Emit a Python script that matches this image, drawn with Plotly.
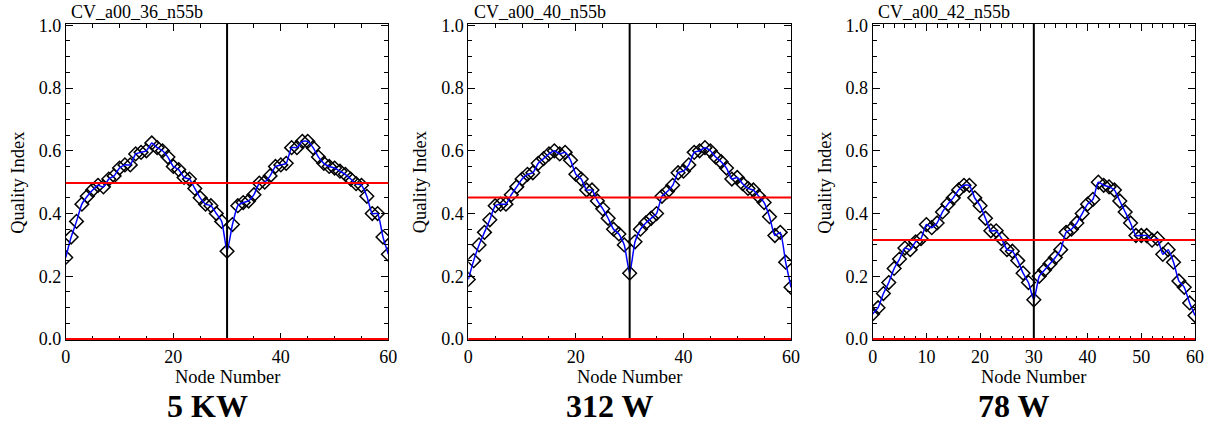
import plotly.graph_objects as go

nodes = list(range(61))

q_36 = [0.26, 0.325, 0.375, 0.43, 0.455, 0.475, 0.49, 0.485, 0.51, 0.52,
        0.545, 0.555, 0.555, 0.59, 0.595, 0.60, 0.625, 0.61, 0.60, 0.58,
        0.55, 0.54, 0.515, 0.51, 0.48, 0.45, 0.43, 0.425, 0.40, 0.375,
        0.28,
        0.365, 0.425, 0.435, 0.44, 0.46, 0.497, 0.50, 0.52, 0.55, 0.555,
        0.56, 0.61, 0.61, 0.63, 0.63, 0.61, 0.58, 0.56, 0.55, 0.545,
        0.535, 0.525, 0.51, 0.495, 0.49, 0.455, 0.40, 0.40, 0.325, 0.27]

q_40 = [0.19, 0.25, 0.30, 0.34, 0.38, 0.425, 0.43, 0.43, 0.46, 0.485,
        0.51, 0.525, 0.53, 0.56, 0.575, 0.59, 0.60, 0.59, 0.595, 0.57,
        0.525, 0.51, 0.475, 0.475, 0.44, 0.415, 0.385, 0.35, 0.335, 0.30,
        0.21,
        0.31, 0.35, 0.37, 0.385, 0.40, 0.455, 0.47, 0.49, 0.53, 0.535,
        0.555, 0.595, 0.60, 0.61, 0.60, 0.58, 0.565, 0.545, 0.51, 0.515,
        0.495, 0.48, 0.475, 0.455, 0.435, 0.39, 0.33, 0.34, 0.245, 0.165]

q_42 = [0.08, 0.10, 0.145, 0.18, 0.225, 0.255, 0.29, 0.285, 0.31, 0.32,
        0.365, 0.355, 0.37, 0.405, 0.43, 0.45, 0.475, 0.49, 0.49, 0.45,
        0.425, 0.385, 0.345, 0.345, 0.32, 0.285, 0.28, 0.25, 0.21, 0.18,
        0.125,
        0.20, 0.22, 0.24, 0.26, 0.285, 0.34, 0.35, 0.37, 0.40, 0.43,
        0.445, 0.50, 0.49, 0.485, 0.475, 0.44, 0.405, 0.37, 0.33, 0.33,
        0.33, 0.315, 0.32, 0.27, 0.285, 0.245, 0.185, 0.165, 0.115, 0.075]

panel_titles = ["CV_a00_36_n55b", "CV_a00_40_n55b", "CV_a00_42_n55b"]
panel_labels = ["5 KW", "312 W", "78 W"]
mean_levels = [0.497, 0.451, 0.316]
divider_node = 30
series = [q_36, q_40, q_42]
x_dticks = [20, 20, 10]
x_minor = [5, 5, 2]

FONT = "Liberation Serif"
x_domains = [[0.0543, 0.3207], [0.3867, 0.6532], [0.7206, 0.9868]]
y_domain = [0.2, 0.9435]

fig = go.Figure()
for i, vals in enumerate(series):
    xa = "x" if i == 0 else f"x{i+1}"
    ya = "y" if i == 0 else f"y{i+1}"
    fig.add_trace(go.Scatter(
        x=nodes, y=vals, mode="markers", xaxis=xa, yaxis=ya,
        marker=dict(symbol="diamond-open", size=10.5, color="black",
                    line=dict(color="black", width=1.5)),
        showlegend=False, hoverinfo="skip"))
    fig.add_trace(go.Scatter(
        x=nodes, y=vals, mode="lines", xaxis=xa, yaxis=ya,
        line=dict(color="#0000ff", width=1.5, shape="spline", smoothing=0.5),
        showlegend=False, hoverinfo="skip"))

    axis_common = dict(showline=True, linecolor="black", linewidth=1,
                       mirror="ticks", ticks="inside", tickcolor="black",
                       showgrid=False, zeroline=False, automargin=False,
                       tickfont=dict(family=FONT, size=18, color="black"))
    xkey = "xaxis" if i == 0 else f"xaxis{i+1}"
    ykey = "yaxis" if i == 0 else f"yaxis{i+1}"
    fig.update_layout(**{
        xkey: dict(domain=x_domains[i], anchor=ya, range=[0, 60],
                   dtick=x_dticks[i], tick0=0, ticklen=7, tickwidth=1,
                   minor=dict(dtick=x_minor[i], ticklen=4, ticks="inside",
                              tickcolor="black", tickwidth=1),
                   **axis_common),
        ykey: dict(domain=y_domain, anchor=xa, range=[-0.003, 1.004],
                   dtick=0.2, tick0=0, ticklen=7, tickwidth=1,
                   tickformat=".1f",
                   minor=dict(dtick=0.05, ticklen=4, ticks="inside",
                              tickcolor="black", tickwidth=1),
                   **axis_common),
    })

    xd = f"{xa} domain"
    yd = f"{ya} domain"
    # vertical divider
    fig.add_shape(type="line", xref=xa, yref=yd, x0=divider_node, x1=divider_node,
                  y0=0, y1=1, line=dict(color="black", width=2), layer="above")
    # mean line
    fig.add_shape(type="line", xref=xd, yref=ya, x0=0, x1=1,
                  y0=mean_levels[i], y1=mean_levels[i],
                  line=dict(color="#ff0000", width=2), layer="above")
    # zero line
    fig.add_shape(type="line", xref=xd, yref=ya, x0=0, x1=1, y0=0, y1=0,
                  line=dict(color="#ff0000", width=2), layer="above")

    cx = (x_domains[i][0] + x_domains[i][1]) / 2
    # panel title
    fig.add_annotation(text=panel_titles[i], xref=xd, yref=yd, x=0.01, y=1.0,
                       xanchor="left", yanchor="bottom", showarrow=False,
                       font=dict(family=FONT, size=18, color="black"))
    # x axis title
    fig.add_annotation(text="Node Number", xref="paper", yref="paper",
                       x=cx, y=1 - 377 / 425, xanchor="center", yanchor="middle",
                       showarrow=False, font=dict(family=FONT, size=18.5, color="black"))
    # y axis title
    fig.add_annotation(text="Quality Index", xref="paper", yref="paper",
                       x=x_domains[i][0] - 48 / 1211, y=1 - 182 / 425,
                       xanchor="center", yanchor="middle", textangle=-90,
                       showarrow=False, font=dict(family=FONT, size=18.5, color="black"))
    # big label
    fig.add_annotation(text=f"<b>{panel_labels[i]}</b>", xref="paper", yref="paper",
                       x=cx - 20 / 1211, y=1 - 406 / 425, xanchor="center",
                       yanchor="middle", showarrow=False,
                       font=dict(family=FONT, size=32, color="black"))

fig.update_layout(width=1211, height=425, margin=dict(l=0, r=0, t=0, b=0),
                  paper_bgcolor="white", plot_bgcolor="white",
                  font=dict(family=FONT, size=18, color="black"))

fig.write_html("out.html")
